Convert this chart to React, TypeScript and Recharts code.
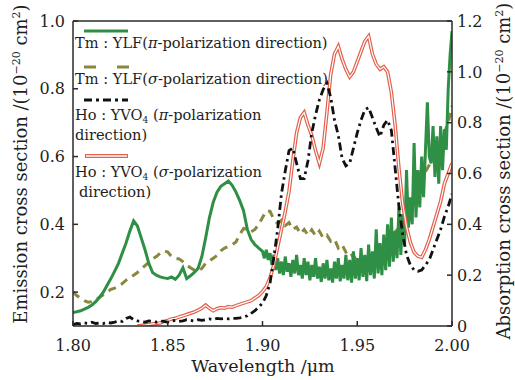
import React from "react"
import { LineChart, Line, XAxis, YAxis, ReferenceLine } from "recharts"

const wavelengthTicks = [1.8, 1.85, 1.9, 1.95, 2.0]
const emissionTicks = [0.2, 0.4, 0.6, 0.8, 1.0]
const absorptionTicks = [0, 0.2, 0.4, 0.6, 0.8, 1.0, 1.2]

// Tm:YLF pi, emission, 1.800-1.898 um every 0.002
const tmPiCoarse = [
  0.140, 0.142, 0.145, 0.150, 0.155, 0.162, 0.172, 0.185, 0.200, 0.220,
  0.240, 0.262, 0.285, 0.315, 0.345, 0.380, 0.410, 0.395, 0.360, 0.325,
  0.285, 0.258, 0.250, 0.245, 0.242, 0.240, 0.245, 0.238, 0.250, 0.272,
  0.240, 0.248, 0.258, 0.270, 0.305, 0.360, 0.420, 0.465, 0.495, 0.512,
  0.520, 0.528, 0.515, 0.495, 0.470, 0.440, 0.385, 0.355, 0.340, 0.330,
]

// Tm:YLF pi, emission, 1.900-2.000 um every 0.001 (noisy part)
const tmPiFine = [
  0.320, 0.300, 0.325, 0.295, 0.315, 0.280, 0.310, 0.265, 0.300, 0.255,
  0.290, 0.250, 0.305, 0.260, 0.285, 0.245, 0.295, 0.255, 0.310, 0.250,
  0.280, 0.240, 0.300, 0.250, 0.290, 0.235, 0.280, 0.245, 0.300, 0.240,
  0.275, 0.230, 0.285, 0.240, 0.295, 0.235, 0.270, 0.228, 0.290, 0.240,
  0.300, 0.232, 0.280, 0.240, 0.310, 0.235, 0.295, 0.228, 0.320, 0.240,
  0.300, 0.235, 0.330, 0.245, 0.310, 0.232, 0.340, 0.250, 0.320, 0.240,
  0.385, 0.255, 0.345, 0.250, 0.370, 0.265, 0.400, 0.275, 0.420, 0.290,
  0.380, 0.300, 0.450, 0.310, 0.430, 0.340, 0.560, 0.390, 0.480, 0.400,
  0.640, 0.420, 0.560, 0.450, 0.600, 0.480, 0.620, 0.760, 0.600, 0.580,
  0.690, 0.540, 0.660, 0.520, 0.690, 0.560, 0.680, 0.620, 0.800, 0.900,
  0.970,
]

// Tm:YLF sigma, emission, 1.800-2.000 um every 0.002
const tmSigma = [
  0.200, 0.190, 0.182, 0.175, 0.170, 0.172, 0.178, 0.185, 0.192, 0.200,
  0.208, 0.212, 0.218, 0.225, 0.235, 0.242, 0.250, 0.258, 0.268, 0.278,
  0.288, 0.298, 0.305, 0.315, 0.322, 0.318, 0.305, 0.300, 0.298, 0.290,
  0.280, 0.272, 0.265, 0.262, 0.270, 0.285, 0.292, 0.300, 0.308, 0.322,
  0.330, 0.335, 0.340, 0.348, 0.370, 0.388, 0.385, 0.378, 0.385, 0.400,
  0.420, 0.440, 0.438, 0.415, 0.402, 0.412, 0.396, 0.405, 0.385, 0.392,
  0.372, 0.385, 0.368, 0.384, 0.366, 0.380, 0.360, 0.368, 0.350, 0.356,
  0.330, 0.340, 0.318, 0.322, 0.300, 0.306, 0.288, 0.300, 0.292, 0.312,
  0.310, 0.330, 0.328, 0.350, 0.352, 0.378, 0.390, 0.405, 0.420, 0.445,
  0.480, 0.500, 0.520, 0.555, 0.575, 0.595, 0.620, 0.645, 0.670, 0.700,
  0.750,
]

// Ho:YVO4 pi, absorption, 1.800-2.000 um every 0.002
const hoPi = [
  0.005, 0.010, 0.008, 0.012, 0.010, 0.015, 0.010, 0.012, 0.010, 0.015, 0.012,
  0.015, 0.020, 0.018, 0.030, 0.035, 0.025, 0.020, 0.018, 0.015, 0.020,
  0.018, 0.015, 0.020, 0.018, 0.015, 0.020, 0.022, 0.018, 0.020, 0.025,
  0.022, 0.020, 0.025, 0.022, 0.025,
  0.028, 0.025, 0.030, 0.028, 0.030, 0.028, 0.030,
  0.030, 0.032, 0.035, 0.040, 0.050, 0.060, 0.075, 0.090,
  0.120, 0.170, 0.270, 0.380, 0.520, 0.610, 0.690, 0.700, 0.640, 0.580,
  0.580, 0.650, 0.760, 0.830, 0.890, 0.930, 0.955, 0.900, 0.810, 0.750,
  0.660, 0.630, 0.640, 0.700, 0.760, 0.810, 0.850, 0.860, 0.820, 0.780,
  0.745, 0.790, 0.810, 0.770, 0.620, 0.470, 0.360, 0.280, 0.240, 0.220,
  0.215, 0.220, 0.240, 0.260, 0.300, 0.340, 0.380, 0.430, 0.470, 0.520,
]

// Ho:YVO4 sigma, absorption, 1.834-2.000 um every 0.002
const hoSigma = [
  0.000, 0.002, 0.004, 0.006, 0.008, 0.010, 0.012, 0.018, 0.022, 0.028,
  0.030, 0.036, 0.040, 0.045, 0.050, 0.055, 0.062, 0.070, 0.082, 0.070,
  0.060, 0.068, 0.072, 0.070, 0.076, 0.074, 0.080, 0.085, 0.090, 0.095,
  0.100, 0.110, 0.120, 0.135, 0.155, 0.190, 0.240, 0.310, 0.380, 0.450,
  0.530, 0.650, 0.760, 0.820, 0.840, 0.790, 0.750, 0.690, 0.640, 0.700,
  0.840, 0.990, 1.070, 1.100, 1.050, 1.010, 0.980, 1.000, 1.040, 1.080,
  1.120, 1.140, 1.070, 1.030, 1.010, 1.020, 1.000, 0.920, 0.790, 0.620,
  0.480, 0.390, 0.330, 0.290, 0.275, 0.270, 0.300, 0.340, 0.390, 0.440,
  0.490, 0.560, 0.600, 0.640,
]

const toPoints = (start: number, step: number, values: number[]) =>
  values.map((v, i) => ({ wl: +(start + i * step).toFixed(3), v }))

const tmPiData = [...toPoints(1.8, 0.002, tmPiCoarse), ...toPoints(1.9, 0.001, tmPiFine)]
const tmSigmaData = toPoints(1.8, 0.002, tmSigma)
const hoPiData = toPoints(1.8, 0.002, hoPi)
const hoSigmaData = toPoints(1.834, 0.002, hoSigma)

const green = "#2e8f45"
const olive = "#8a8740"
const red = "#e2604c"
const font = "DejaVu Serif"
const axisColor = "#2a2a2a"
const tickStyle = { fill: "#1e1e1e", fontSize: 16, fontFamily: font }

export default function App() {
  return (
    <div style={{ position: "absolute", left: 0, top: 0, width: 515, height: 380, background: "#fff" }}>
      <LineChart width={515} height={380} margin={{ top: 21, right: 23, bottom: 24, left: 33 }}>
        <XAxis
          type="number"
          dataKey="wl"
          domain={[1.8, 2.0]}
          ticks={wavelengthTicks}
          tickFormatter={(v: number) => v.toFixed(2)}
          allowDataOverflow
          height={30}
          tickSize={-5}
          tickMargin={19}
          stroke={axisColor}
          strokeWidth={1.5}
          tick={tickStyle}
        />
        <YAxis
          yAxisId="left"
          type="number"
          domain={[0.1, 1.0]}
          ticks={emissionTicks}
          tickFormatter={(v: number) => v.toFixed(1)}
          allowDataOverflow
          width={40}
          tickSize={-5}
          tickMargin={13}
          stroke={axisColor}
          strokeWidth={1.5}
          tick={tickStyle}
        />
        <YAxis
          yAxisId="right"
          orientation="right"
          type="number"
          domain={[0, 1.2]}
          ticks={absorptionTicks}
          tickFormatter={(v: number) => (v === 0 ? "0" : v.toFixed(1))}
          allowDataOverflow
          width={40}
          tickSize={-5}
          tickMargin={10}
          stroke={axisColor}
          strokeWidth={1.5}
          tick={tickStyle}
        />
        <ReferenceLine yAxisId="left" y={1.0} stroke={axisColor} strokeWidth={1.5} />
        <Line data={tmSigmaData} yAxisId="left" dataKey="v" stroke={olive} strokeWidth={3} strokeDasharray="8 6" dot={false} isAnimationActive={false} />
        <Line data={tmPiData} yAxisId="left" dataKey="v" stroke={green} strokeWidth={3} dot={false} isAnimationActive={false} />
        <Line data={hoSigmaData} yAxisId="right" dataKey="v" stroke={red} strokeWidth={3.6} dot={false} isAnimationActive={false} />
        <Line data={hoSigmaData} yAxisId="right" dataKey="v" stroke="#fff" strokeWidth={1.2} dot={false} isAnimationActive={false} />
        <Line data={hoPiData} yAxisId="right" dataKey="v" stroke="#111" strokeWidth={2.8} strokeDasharray="8 4 2.5 4" dot={false} isAnimationActive={false} />
      </LineChart>

      <svg width={515} height={380} style={{ position: "absolute", left: 0, top: 0, pointerEvents: "none" }} fontFamily={font} fill="#1e1e1e">
        {/* legend */}
        <line x1={84} x2={128} y1={31} y2={31} stroke={green} strokeWidth={3} />
        <text x={75} y={48} fontSize={14.6}>
          Tm : YLF(<tspan fontStyle="italic">π</tspan>-polarization direction)
        </text>
        <line x1={84} x2={130} y1={67} y2={67} stroke={olive} strokeWidth={3} strokeDasharray="12 21" />
        <text x={75} y={84} fontSize={14.6}>
          Tm : YLF(<tspan fontStyle="italic">σ</tspan>-polarization direction)
        </text>
        <line x1={84} x2={128} y1={100} y2={100} stroke="#111" strokeWidth={3} strokeDasharray="8 4 3 4" />
        <text x={75} y={120} fontSize={14.6}>
          Ho : YVO<tspan fontSize={9} dy={3}>4</tspan>
          <tspan dy={-3}> (</tspan>
          <tspan fontStyle="italic">π</tspan>-polarization
        </text>
        <text x={75} y={140} fontSize={14.6}>direction)</text>
        <line x1={85} x2={128} y1={156} y2={156} stroke={red} strokeWidth={4} />
        <line x1={86} x2={127} y1={156} y2={156} stroke="#fff" strokeWidth={1.4} />
        <text x={75} y={177} fontSize={14.6}>
          Ho : YVO<tspan fontSize={9} dy={3}>4</tspan>
          <tspan dy={-3}> (</tspan>
          <tspan fontStyle="italic">σ</tspan>-polarization
        </text>
        <text x={79} y={197} fontSize={14.6}>direction)</text>

        {/* axis titles */}
        <text x={263} y={372} fontSize={17.5} textAnchor="middle">
          Wavelength /μm
        </text>
        <text transform="translate(27,164) rotate(-90)" fontSize={18} textAnchor="middle">
          Emission cross section /(10<tspan fontSize={11} dy={-7}>−20</tspan>
          <tspan dy={7}> cm</tspan>
          <tspan fontSize={11} dy={-7}>2</tspan>
          <tspan dy={7}>)</tspan>
        </text>
        <text transform="translate(510,171) rotate(-90)" fontSize={18} textAnchor="middle">
          Absorption cross section /(10<tspan fontSize={11} dy={-7}>−20</tspan>
          <tspan dy={7}> cm</tspan>
          <tspan fontSize={11} dy={-7}>2</tspan>
          <tspan dy={7}>)</tspan>
        </text>
      </svg>
    </div>
  )
}
